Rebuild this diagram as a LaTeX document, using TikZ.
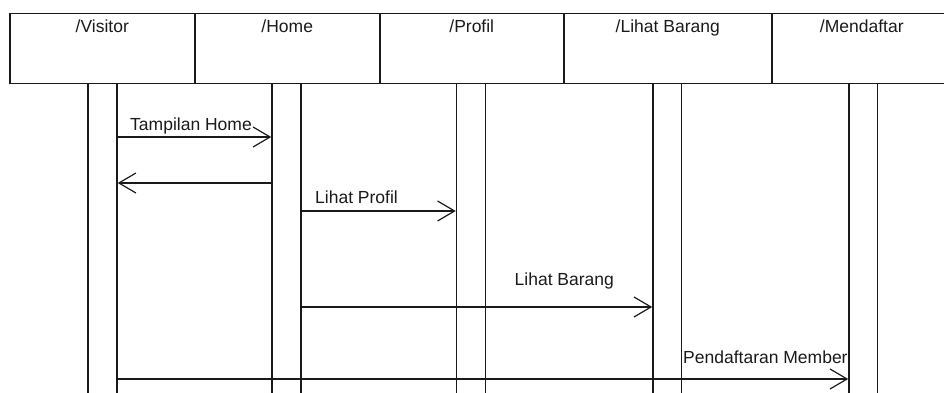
\documentclass[tikz,border=0pt]{standalone}
\usepackage{fontspec}
\setmainfont{Liberation Sans}
\usetikzlibrary{arrows.meta}
\definecolor{ink}{HTML}{1A1A1A}
\begin{document}
\begin{tikzpicture}[x=1pt,y=-1pt,
  hdr/.style={draw=ink, line width=1.5pt, minimum height=70pt, inner sep=0pt, anchor=north west},
  hlbl/.style={font=\fontsize{17.5}{20}\selectfont, text=ink, inner sep=0pt, anchor=base},
  lifebar/.style={draw=ink, line width=1.5pt, minimum width=29pt, minimum height=340pt, anchor=north, inner sep=0pt},
  msg/.style={draw=ink, line width=1.4pt, -{Straight Barb[length=17pt,width=20pt,line width=1.2pt]}},
  lbl/.style={font=\fontsize{17.5}{20}\selectfont, text=ink, inner sep=0pt, anchor=base west}]
\useasboundingbox (0,0) rectangle (944,393);
\clip (0,0) rectangle (944,393);
% header boxes
\node[hdr, minimum width=185pt, label={[hlbl, yshift=-20pt]north:/Visitor}] (hv) at (9,13) {};
\node[hdr, minimum width=185pt, label={[hlbl, yshift=-20pt]north:/Home}] (hh) at (194,13) {};
\node[hdr, minimum width=184pt, label={[hlbl, yshift=-20pt]north:/Profil}] (hp) at (379,13) {};
\node[hdr, minimum width=208pt, label={[hlbl, yshift=-20pt]north:/Lihat Barang}] (hl) at (563,13) {};
\node[hdr, minimum width=180pt, label={[hlbl, yshift=-20pt]north:/Mendaftar}] (hm) at (771,13) {};
% activation bars
\node[lifebar] (vbar) at (102.5,83) {};
\node[lifebar] (hbar) at (286.5,83) {};
\node[lifebar] (pbar) at (471,83) {};
\node[lifebar, minimum width=28.7pt] (lbar) at (667.3,83) {};
\node[lifebar, minimum width=28.7pt] (mbar) at (863.3,83) {};
% message rows
\coordinate (m1) at (0,137);
\coordinate (m2) at (0,183);
\coordinate (m3) at (0,211);
\coordinate (m4) at (0,307);
\coordinate (m5) at (0,379);
\draw[msg] (vbar.east |- m1) -- (hbar.west |- m1);
\draw[msg] (hbar.west |- m2) -- (vbar.east |- m2);
\draw[msg] (hbar.east |- m3) -- (pbar.west |- m3);
\draw[msg] (hbar.east |- m4) -- (lbar.west |- m4);
\draw[msg] (vbar.east |- m5) -- (mbar.west |- m5);
% labels
\node[lbl] (t1) at (130,130) {Tampilan Home};
\node[lbl] (t3) at (315,203) {Lihat Profil};
\node[lbl] (t4) at (514.5,285) {Lihat Barang};
\node[lbl] (t5) at (683,363) {Pendaftaran Member};
\end{tikzpicture}
\end{document}
